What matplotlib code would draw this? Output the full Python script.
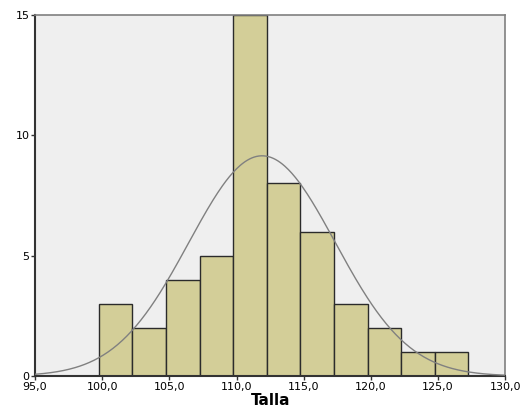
import numpy as np
import matplotlib.pyplot as plt
from matplotlib.ticker import FuncFormatter

# Histogram of "Talla" (bin edges and counts)
bin_edges = [99.75, 102.25, 104.75, 107.25, 109.75, 112.25, 114.75,
             117.25, 119.75, 122.25, 124.75, 127.25]
counts = [3, 2, 4, 5, 15, 8, 6, 3, 2, 1, 1]

# Fitted normal curve parameters
mean_talla = 111.9
sd_talla = 5.45
n_total = sum(counts)
bin_width = 2.5

x_ticks = [95, 100, 105, 110, 115, 120, 125, 130]
y_ticks = [0, 5, 10, 15]

fig = plt.figure(figsize=(5.23, 4.16), dpi=100)
ax = fig.add_axes([0.067, 0.096, 0.899, 0.868])
ax.set_facecolor('#EFEFEF')

ax.bar(bin_edges[:-1], counts, width=np.diff(bin_edges), align='edge',
       color='#D3CE98', edgecolor='#2B2B2B', linewidth=1.0, zorder=2)

xs = np.linspace(95, 130, 400)
ys = n_total * bin_width / (sd_talla * np.sqrt(2 * np.pi)) * \
    np.exp(-0.5 * ((xs - mean_talla) / sd_talla) ** 2)
ax.plot(xs, ys, color='#808080', linewidth=1.0, zorder=3)

ax.set_xlim(95, 130)
ax.set_ylim(0, 15)
ax.set_xticks(x_ticks)
ax.set_yticks(y_ticks)
ax.xaxis.set_major_formatter(FuncFormatter(lambda v, p: f"{v:.1f}".replace('.', ',')))
ax.tick_params(axis='both', labelsize=8, length=3, width=1, pad=1, color='#333333')

for side in ['left', 'bottom']:
    ax.spines[side].set_color('#333333')
    ax.spines[side].set_linewidth(1.5)
for side in ['top', 'right']:
    ax.spines[side].set_color('#808080')
    ax.spines[side].set_linewidth(1.2)

ax.set_xlabel('Talla', fontsize=11, fontweight='bold', labelpad=1)

fig.savefig('out.png', dpi=100)
